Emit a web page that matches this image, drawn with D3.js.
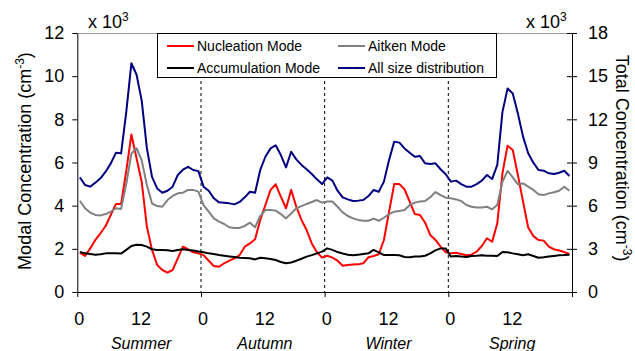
<!DOCTYPE html>
<html>
<head>
<meta charset="utf-8">
<script src="https://cdn.jsdelivr.net/npm/d3@7"></script>
<style>
  html, body { margin: 0; padding: 0; background: #fff; }
  svg { display: block; font-family: "Liberation Sans", Arial, sans-serif; }
</style>
</head>
<body>
<svg id="chart" width="635" height="351"></svg>
<script>
// Seasons shown side by side, 24 hourly values each
const seasons = ["Summer", "Autumn", "Winter", "Spring"];
const hourTicks = [0, 12];

// Modal concentrations, x 10^3 cm^-3 (left axis)
const nucleation = [
  1.82, 1.67, 2.02, 2.41, 2.72, 3.06, 3.57, 4.08, 4.08, 5.6, 7.3, 6.2, 5.1, 3.03, 1.95, 1.25, 1.02, 0.9, 1.02, 1.56, 2.1, 1.98, 1.84, 1.79,
  1.71, 1.45, 1.2, 1.17, 1.33, 1.45, 1.56, 1.71, 2.1, 2.25, 2.44, 3.34, 4.03, 4.73, 4.99, 4.42, 3.88, 4.73, 3.95, 3.34, 2.87, 2.25, 1.84, 1.59,
  1.68, 1.59, 1.45, 1.22, 1.25, 1.27, 1.28, 1.33, 1.61, 1.67, 1.75, 2.41, 3.72, 5.0, 5.0, 4.76, 4.19, 3.61, 3.57, 3.21, 2.64, 2.41, 2.1, 1.84,
  1.79, 1.82, 1.76, 1.7, 1.73, 1.87, 2.13, 2.49, 2.33, 3.18, 5.5, 6.78, 6.58, 5.42, 4.19, 2.99, 2.59, 2.41, 2.38, 2.1, 1.98, 1.92, 1.85, 1.76
];
const aitken = [
  4.23, 3.88, 3.68, 3.57, 3.55, 3.61, 3.72, 3.88, 3.85, 5.0, 6.42, 6.66, 6.1, 4.96, 4.1, 3.98, 3.95, 4.26, 4.45, 4.57, 4.6, 4.73, 4.73, 4.65,
  4.03, 3.72, 3.41, 3.26, 3.15, 3.0, 2.97, 2.97, 3.06, 3.21, 3.0, 3.52, 3.8, 3.8, 3.77, 3.61, 3.41, 3.64, 3.88, 3.98, 4.08, 4.17, 4.26, 4.14,
  4.19, 4.19, 3.95, 3.69, 3.52, 3.41, 3.34, 3.3, 3.3, 3.4, 3.3, 3.44, 3.61, 3.72, 3.75, 3.8, 4.03, 4.14, 4.19, 4.22, 4.39, 4.63, 4.49, 4.37,
  4.34, 4.29, 4.22, 4.03, 3.95, 3.91, 3.91, 3.95, 3.83, 4.03, 5.11, 5.61, 5.31, 4.99, 5.03, 4.88, 4.73, 4.53, 4.49, 4.57, 4.62, 4.69, 4.88, 4.69
];
const accumulation = [
  1.85, 1.79, 1.76, 1.73, 1.75, 1.79, 1.79, 1.79, 1.78, 1.95, 2.13, 2.19, 2.18, 2.1, 1.98, 1.95, 1.95, 1.93, 1.9, 1.95, 1.98, 1.95, 1.92, 1.88,
  1.84, 1.79, 1.76, 1.71, 1.68, 1.65, 1.62, 1.59, 1.58, 1.56, 1.51, 1.59, 1.56, 1.53, 1.48, 1.39, 1.33, 1.37, 1.45, 1.54, 1.64, 1.71, 1.79, 1.87,
  2.02, 1.95, 1.85, 1.78, 1.73, 1.7, 1.73, 1.76, 1.79, 1.95, 1.84, 1.71, 1.71, 1.71, 1.7, 1.62, 1.61, 1.64, 1.65, 1.68, 1.79, 1.93, 2.02, 2.02,
  1.64, 1.67, 1.64, 1.62, 1.67, 1.68, 1.7, 1.68, 1.68, 1.67, 1.85, 1.84, 1.79, 1.75, 1.7, 1.75, 1.67, 1.59, 1.61, 1.64, 1.67, 1.7, 1.71, 1.73
];
// Total concentration, x 10^3 cm^-3 (right axis)
const total = [
  7.97, 7.44, 7.32, 7.6, 7.9, 8.36, 8.94, 9.68, 9.64, 12.5, 15.9, 15.1, 13.3, 10.0, 8.0, 7.2, 6.9, 7.04, 7.32, 8.13, 8.5, 8.7, 8.48, 8.4,
  7.32, 7.04, 6.51, 6.23, 6.21, 6.16, 6.09, 6.26, 6.58, 6.97, 6.9, 8.48, 9.4, 9.98, 10.2, 9.52, 8.66, 9.75, 9.22, 8.83, 8.53, 8.2, 7.83, 7.5,
  7.97, 7.74, 7.04, 6.58, 6.44, 6.32, 6.35, 6.39, 6.67, 7.09, 6.97, 7.67, 9.17, 10.45, 10.38, 9.98, 9.68, 9.4, 9.45, 8.94, 8.9, 8.94, 8.53, 8.18,
  7.67, 7.74, 7.5, 7.32, 7.32, 7.5, 7.74, 8.13, 7.85, 8.83, 12.5, 14.15, 13.8, 12.4, 10.8, 9.64, 8.99, 8.48, 8.43, 8.25, 8.2, 8.29, 8.43, 8.06
];

const leftTicks = [0, 2, 4, 6, 8, 10, 12];
const rightTicks = [0, 3, 6, 9, 12, 15, 18];

const series = [
  { name: "Nucleation Mode", values: nucleation, color: "#ff0000", axis: "left" },
  { name: "Aitken Mode", values: aitken, color: "#808080", axis: "left" },
  { name: "Accumulation Mode", values: accumulation, color: "#000000", axis: "left" },
  { name: "All size distribution", values: total, color: "#000080", axis: "right" }
];

const svg = d3.select("#chart");
const plotLeft = 77.3, plotRight = 572, plotTop = 33, plotBottom = 292;
const hoursPerSeason = 24;

const x = d3.scaleLinear().domain([0, seasons.length * hoursPerSeason]).range([plotLeft, plotRight]);
const yL = d3.scaleLinear().domain([0, 12]).range([plotBottom, plotTop]);
const yR = d3.scaleLinear().domain([0, 18]).range([plotBottom, plotTop]);

// season separators
svg.append("g").selectAll("line")
  .data(d3.range(1, seasons.length))
  .join("line")
  .attr("x1", d => x(d * hoursPerSeason)).attr("x2", d => x(d * hoursPerSeason))
  .attr("y1", plotTop).attr("y2", plotBottom)
  .attr("stroke", "#000").attr("stroke-width", 1).attr("stroke-dasharray", "3,3");

// top frame
svg.append("line").attr("x1", plotLeft).attr("x2", plotRight).attr("y1", plotTop + 0.5).attr("y2", plotTop + 0.5)
  .attr("stroke", "#999").attr("stroke-width", 1);

// series lines (hourly means centred in each hour)
series.forEach(s => {
  const yy = s.axis === "left" ? yL : yR;
  const line = d3.line().x((d, i) => x(i + 0.5)).y(d => yy(d));
  svg.append("path").datum(s.values)
    .attr("d", line)
    .attr("fill", "none")
    .attr("stroke", s.color)
    .attr("stroke-width", 2)
    .attr("stroke-linejoin", "round");
});

// left axis
const gL = svg.append("g").attr("transform", `translate(${plotLeft},0)`)
  .call(d3.axisLeft(yL).tickValues(leftTicks).tickSize(5).tickSizeOuter(0).tickPadding(8));
gL.selectAll("text").attr("font-size", 18).attr("font-family", "Liberation Sans, Arial, sans-serif").attr("fill", "#000");
gL.selectAll("line, path").attr("stroke", "#000");

// right axis (ticks cross the axis line)
const gR = svg.append("g").attr("transform", `translate(${plotRight},0)`)
  .call(d3.axisRight(yR).tickValues(rightTicks).tickSize(5).tickSizeOuter(0).tickPadding(11));
gR.selectAll(".tick line").attr("x1", -5);
gR.selectAll("text").attr("font-size", 18).attr("font-family", "Liberation Sans, Arial, sans-serif").attr("fill", "#000");
gR.selectAll("line, path").attr("stroke", "#000");

// bottom axis: ticks at day boundaries
const gB = svg.append("g").attr("transform", `translate(0,${plotBottom})`)
  .call(d3.axisBottom(x).tickValues(d3.range(0, seasons.length + 1).map(d => d * hoursPerSeason))
    .tickSize(5).tickSizeOuter(0).tickFormat(""));
gB.selectAll("line, path").attr("stroke", "#000");

// hour labels
const hourPositions = d3.range(seasons.length).flatMap(s => hourTicks.map(h => ({ pos: s * hoursPerSeason + h, label: h })));
svg.append("g").selectAll("text")
  .data(hourPositions)
  .join("text")
  .attr("x", d => x(d.pos) + 2)
  .attr("y", 325)
  .attr("text-anchor", "middle")
  .attr("font-size", 18)
  .text(d => d.label);

// season labels
svg.append("g").selectAll("text")
  .data(seasons)
  .join("text")
  .attr("x", (d, i) => x(i * hoursPerSeason + 12) + 2)
  .attr("y", 349)
  .attr("text-anchor", "middle")
  .attr("font-size", 16)
  .attr("font-style", "italic")
  .text(d => d);

// multiplier labels
function multiplier(xPos) {
  const t = svg.append("text").attr("x", xPos).attr("y", 28).attr("font-size", 18);
  t.append("tspan").text("x 10");
  t.append("tspan").attr("font-size", 12).attr("dy", -7).text("3");
}
multiplier(88);
multiplier(526);

// axis titles
function axisTitle(tx, ty, rot, label) {
  const t = svg.append("text")
    .attr("transform", `translate(${tx},${ty}) rotate(${rot})`)
    .attr("text-anchor", "middle")
    .attr("font-size", 18);
  t.append("tspan").text(label + " (cm");
  t.append("tspan").attr("font-size", 12).attr("dy", -7).text("-3");
  t.append("tspan").attr("dy", 7).text(")");
}
axisTitle(31, 161, -90, "Modal Concentration");
axisTitle(616, 158, 90, "Total Concentration");

// legend
const legend = svg.append("g");
legend.append("rect")
  .attr("x", 157.5).attr("y", 33.5).attr("width", 339).attr("height", 44)
  .attr("fill", "#fff").attr("stroke", "#000").attr("stroke-width", 1);
const legendItems = [
  { s: series[0], lx: 167, ly: 46 },
  { s: series[1], lx: 338, ly: 46 },
  { s: series[2], lx: 167, ly: 68 },
  { s: series[3], lx: 338, ly: 68 }
];
legendItems.forEach(d => {
  legend.append("line")
    .attr("x1", d.lx).attr("x2", d.lx + 27)
    .attr("y1", d.ly).attr("y2", d.ly)
    .attr("stroke", d.s.color).attr("stroke-width", 2);
  legend.append("text")
    .attr("x", d.lx + 30).attr("y", d.ly + 5)
    .attr("font-size", 14)
    .text(d.s.name);
});
</script>
</body>
</html>
